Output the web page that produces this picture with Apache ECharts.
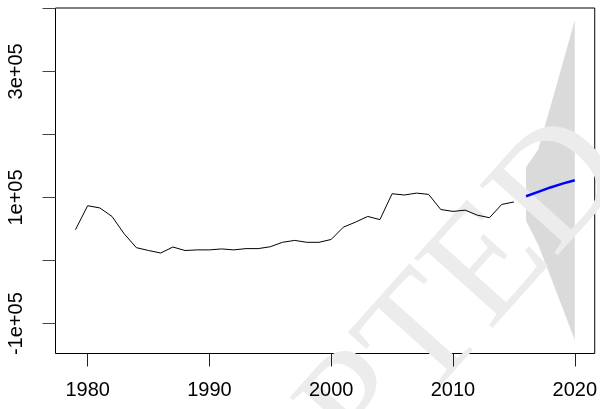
<!DOCTYPE html>
<html>
<head>
<meta charset="utf-8">
<script src="https://cdn.jsdelivr.net/npm/echarts@6/dist/echarts.min.js"></script>
<style>
html,body{margin:0;padding:0;background:#fff;}
#chart{width:600px;height:409px;}
</style>
</head>
<body>
<div id="chart"></div>
<script>
// Observed series (annual)
var years = [1979,1980,1981,1982,1983,1984,1985,1986,1987,1988,1989,1990,1991,1992,1993,1994,1995,1996,1997,1998,1999,2000,2001,2002,2003,2004,2005,2006,2007,2008,2009,2010,2011,2012,2013,2014,2015];
var values = [49000,87000,83500,70000,42500,20500,16000,12000,21500,16000,17000,17000,18500,17000,19000,19000,22000,29000,32000,29000,29000,33500,53000,61000,70000,65000,106000,104000,107000,105000,81000,78000,80000,72000,68000,89000,93000];
// Forecast
var fcYears = [2016,2017,2018,2019,2020];
var fcMean = [102000,109000,116000,122000,127500];
var fcLower = [63000,25000,-25000,-75000,-126000];
var fcUpper = [148000,176000,244000,312000,381000];
// Axis ticks
var xTicks = [1980,1990,2000,2010,2020];
var yTicks = [-100000,0,100000,200000,300000,400000];
var yLabels = [-100000,100000,300000];

function fmtSci(v){
  if (v === 0) return '0';
  var neg = v < 0; var a = Math.abs(v);
  var e = Math.floor(Math.log10(a)); var m = a/Math.pow(10,e);
  return (neg?'-':'') + (Math.round(m*100)/100) + 'e+' + (e<10?'0':'') + e;
}

var obsData = years.map(function(y,i){return [y, values[i]];});
var fcData = fcYears.map(function(y,i){return [y, fcMean[i]];});
var bandData = fcYears.map(function(y,i){return [y, fcLower[i], fcUpper[i]];});

var chart = echarts.init(document.getElementById('chart'), null, {renderer:'canvas'});
var font = '"Liberation Sans", Arial, sans-serif';
chart.setOption({
  animation:false,
  backgroundColor:'#fff',
  grid:{left:55.5, right:5, top:8, bottom:55.5, show:true, borderColor:'#000', borderWidth:1, backgroundColor:'transparent'},
  xAxis:{type:'value', min:1977.36, max:2021.64, z:5,
    axisLine:{show:false, onZero:false}, splitLine:{show:false},
    axisTick:{show:true, length:13, lineStyle:{color:'#222', width:1}, customValues:xTicks},
    axisLabel:{show:true, customValues:xTicks, fontSize:20, fontFamily:font, color:'#000', margin:27,
      formatter:function(v){return String(v);}}
  },
  yAxis:{type:'value', min:-147300, max:400500, z:5,
    axisLine:{show:false, onZero:false}, splitLine:{show:false},
    axisTick:{show:true, length:13, lineStyle:{color:'#444', width:1}, customValues:yTicks},
    axisLabel:{show:true, customValues:yLabels, rotate:90, fontSize:20, fontFamily:font, color:'#000', margin:29,
      formatter:function(v){return fmtSci(v);}}
  },
  graphic:[{
    type:'text', z:1, silent:true,
    x:660, y:198, rotation:0.84,
    style:{text:'ACCEPTED', font:'160px "Liberation Serif", "Times New Roman", serif', fill:'#ececec', align:'right', verticalAlign:'bottom'}
  }],
  series:[
    {type:'custom', z:0, data:bandData, silent:true,
      renderItem:function(params, api){
        if (params.dataIndex !== 0) return;
        var up = [], lo = [];
        for (var i=0;i<bandData.length;i++){
          up.push(api.coord([bandData[i][0], bandData[i][2]]));
          lo.unshift(api.coord([bandData[i][0], bandData[i][1]]));
        }
        return {type:'polygon', shape:{points:up.concat(lo)}, style:{fill:'#dadada', stroke:null}};
      },
      encode:{x:0, y:[1,2]}
    },
    {type:'line', z:3, data:obsData, showSymbol:false, symbol:'none', lineStyle:{color:'#000', width:1}},
    {type:'line', z:3, data:fcData, showSymbol:false, symbol:'none', lineStyle:{color:'#0000ff', width:2.5}}
  ]
});
</script>
</body>
</html>
